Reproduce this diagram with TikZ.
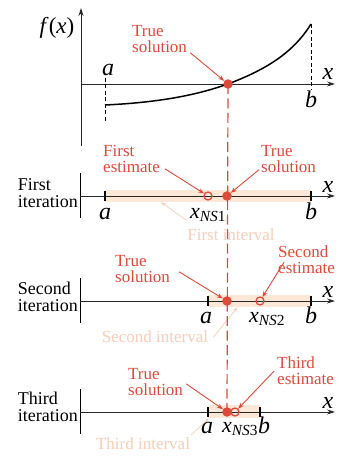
\documentclass[tikz,border=0pt]{standalone}
\usepackage{fontspec}
\setmainfont{Liberation Serif}
\newfontfamily\bisectfont{Liberation Serif}
\usepackage{tikz}
\usetikzlibrary{
  arrows.meta,
  positioning
}
\definecolor{BisectRed}{HTML}{DC4A3C}
\definecolor{BisectBand}{HTML}{FDE8D8}
\definecolor{BisectFaint}{HTML}{F8CDBA}

\tikzset{
  axisline/.style={draw=black!85,line width=0.9pt,-{Stealth[length=8pt,width=5pt]}},
  iterbar/.style={draw=black,line width=1pt},
  endtick/.style={draw=black,line width=1.3pt},
  guide/.style={draw=black,line width=0.8pt,dash pattern=on 4pt off 2.5pt},
  fcurve/.style={draw=black,line width=1.5pt},
  band/.style={fill=BisectBand,draw=none,inner sep=0pt},
  truedot/.style={circle,fill=BisectRed,inner sep=0pt,minimum size=9.5pt},
  estdot/.style={circle,draw=BisectRed,line width=1.3pt,inner sep=0pt,minimum size=8pt},
  truthline/.style={draw=BisectRed,line width=1.2pt,dash pattern=on 10pt off 4.5pt},
  redlabel/.style={text=BisectRed,font=\bisectfont\fontsize{17}{16}\selectfont,align=left,
    inner sep=0pt,anchor=north west},
  rowlabel/.style={font=\bisectfont\fontsize{18}{17}\selectfont,align=left,inner sep=0pt,
    anchor=north east},
  mathlabel/.style={font=\bisectfont\fontsize{24}{24}\selectfont\itshape,inner sep=0pt,anchor=base},
  sublabel/.style={font=\bisectfont\fontsize{22}{22}\selectfont\itshape,inner sep=0pt,anchor=base},
  redarrow/.style={draw=BisectRed,line width=0.9pt,-{Stealth[length=6pt,width=4.5pt]}},
  faintlabel/.style={text=BisectFaint,font=\bisectfont\fontsize{17}{16}\selectfont,inner sep=0pt,
    anchor=base},
  faintarrow/.style={draw=BisectFaint,line width=0.7pt,-{Stealth[length=5pt,width=3.5pt]}}
}

\begin{document}
\begin{tikzpicture}[x=1pt,y=-1pt]
\useasboundingbox[fill=white] (0,0) rectangle (344,457);

% shaded intervals and their names
\node[band,minimum width=206pt,minimum height=12pt] (band1) at (208,196) {};
\node[band,minimum width=103pt,minimum height=12pt] (band2) at (259.5,301) {};
\node[band,minimum width=52pt,minimum height=13pt] (band3) at (234,411.5) {};
\node[faintlabel] (int1) at (231,240) {First interval};
\node[faintlabel] (int2) at (155,342) {Second interval};
\node[faintlabel] (int3) at (143,449) {Third interval};
\draw[faintarrow] ([xshift=-1pt,yshift=8pt]int1.north west) -- ([xshift=-47pt]band1.south);
\draw[faintarrow] ([xshift=5pt,yshift=-1pt]int2.east) -- ([xshift=-22pt]band2.south);
\draw[faintarrow] ([xshift=1pt,yshift=2pt]int3.north east) -- ([xshift=-25pt]band3.south);

% the true root, carried down through the rows
\coordinate (root0) at (228,84);
\coordinate (root3) at (227,412);
\draw[truthline] (root0) -- (root3);

% f(x) over [a,b]
\draw[axisline] (81,146) -- (81,8);
\draw[axisline] (81,84) -- (335,84);
\draw[guide] (105,78) -- (105,122);
\draw[guide] (311,24) -- (311,90);
\draw[fcurve] (105,105) .. controls (170,102) and (205,92) .. (root0)
  .. controls (262,71) and (292,55) .. (311,24);
\node[sublabel,font=\bisectfont\fontsize{23}{23}\selectfont] (fx) at (57,34) {\textit{f}(\textit{x})};
\node[mathlabel] (a0) at (108,76) {a};
\node[mathlabel] (b0) at (311,108) {b};
\node[mathlabel] (x0) at (328,80) {x};
\node[truedot] (dot0) at (root0) {};
\node[redlabel] (sol0) at (132,25) {True\\solution};
\draw[redarrow] ([xshift=3pt]sol0.south east) -- (dot0);

% iteration rows
\foreach \yy in {196,301,412}{
  \draw[iterbar] (80,\yy-23) -- (80,\yy+22);
  \draw[axisline] (80,\yy) -- (335,\yy);
  \node[mathlabel] at (328,\yy-4) {x};
}
\node[rowlabel] (it1) at (78,178) {First\\iteration};
\node[rowlabel] (it2) at (78,282) {Second\\iteration};
\node[rowlabel] (it3) at (78,392) {Third\\iteration};

% first iteration
\draw[endtick] (105,191) -- (105,201);
\draw[endtick] (311,191) -- (311,201);
\node[estdot] (est1) at (208,196) {};
\node[truedot] (dot1) at (227,196) {};
\node[mathlabel] (a1) at (105,219) {a};
\node[mathlabel] (b1) at (311,219) {b};
\node[sublabel] (xn1) at (208,218) {x\textsubscript{\textit{NS}\textup{1}}};
\node[redlabel] (est1lbl) at (103,145) {First\\estimate};
\node[redlabel] (sol1) at (261,145) {True\\solution};
\draw[redarrow] ([xshift=5pt,yshift=4pt]est1lbl.south east) -- (est1);
\draw[redarrow] ([xshift=-2pt,yshift=3pt]sol1.south west) -- (dot1);

% second iteration
\draw[endtick] (208,296) -- (208,306);
\draw[endtick] (311,296) -- (311,306);
\node[estdot] (est2) at (260,301) {};
\node[truedot] (dot2) at (227,301) {};
\node[mathlabel] (a2) at (206,323) {a};
\node[mathlabel] (b2) at (311,323) {b};
\node[sublabel] (xn2) at (267,322) {x\textsubscript{\textit{NS}\textup{2}}};
\node[redlabel] (sol2) at (115,255) {True\\solution};
\node[redlabel] (est2lbl) at (278,246) {Second\\estimate};
\draw[redarrow] ([xshift=6pt,yshift=-2pt]est2lbl.west) -- (est2);
\draw[redarrow] ([xshift=9pt,yshift=-3pt]sol2.east) -- (dot2);

% third iteration
\draw[endtick] (208,407) -- (208,417);
\draw[endtick] (260,407) -- (260,417);
\node[truedot] (dot3) at (root3) {};
\node[estdot] (est3) at (235,412) {};
\node[mathlabel] (a3) at (207,433) {a};
\node[mathlabel] (b3) at (264,433) {b};
\node[sublabel] (xn3) at (240,432) {x\textsubscript{\textit{NS}\textup{3}}};
\node[redlabel] (sol3) at (128,368) {True\\solution};
\node[redlabel] (est3lbl) at (277,357) {Third\\estimate};
\draw[redarrow] ([xshift=3pt,yshift=-2pt]sol3.east) -- (dot3);
\draw[redarrow] ([xshift=-3pt]est3lbl.west) -- (est3);
\end{tikzpicture}
\end{document}
